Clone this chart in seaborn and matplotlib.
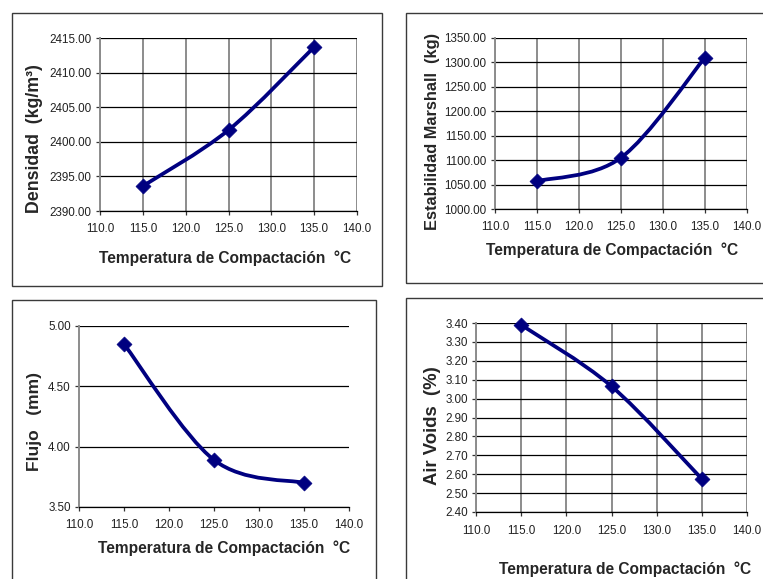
import numpy as np
import seaborn as sns
import matplotlib.pyplot as plt
from matplotlib.path import Path
from matplotlib.patches import PathPatch, Rectangle
from matplotlib.ticker import FormatStrFormatter

# ===== data =====
temperatura = [115.0, 125.0, 135.0]
densidad = [2393.6, 2401.7, 2413.7]
estabilidad = [1057.0, 1105.0, 1310.0]
flujo = [4.85, 3.89, 3.70]
air_voids = [3.39, 3.065, 2.575]

xlabel = "Temperatura de Compactación  °C"
ylabels = ["Densidad  (kg/m³)", "Estabilidad Marshall  (kg)", "Flujo   (mm)", "Air Voids  (%)"]
ylims = [(2390, 2415, 5), (1000, 1350, 50), (3.5, 5.0, 0.5), (2.4, 3.4, 0.1)]

sns.set_style("white")
plt.rcParams['font.family'] = ['Liberation Sans', 'DejaVu Sans']

W, H = 763, 579
fig = plt.figure(figsize=(W / 100, H / 100), dpi=100)


def px_axes(left, top, right, bottom):
    return fig.add_axes([left / W, 1 - bottom / H, (right - left) / W, (bottom - top) / H])


def smooth_path(x, y):
    # excel-like smoothed line: bezier segments with catmull-rom control points
    pts = np.column_stack([x, y]).astype(float)
    ext = np.vstack([pts[0], pts, pts[-1]])
    verts = [pts[0]]
    codes = [Path.MOVETO]
    for i in range(len(pts) - 1):
        p0, p1, p2, p3 = ext[i], ext[i + 1], ext[i + 2], ext[i + 3]
        verts += [p1 + (p2 - p0) / 6, p2 - (p3 - p1) / 6, p2]
        codes += [Path.CURVE4] * 3
    return Path(verts, codes)


panels = [
    # axes box (px), border box (px), y values, vertical grid, ylabel pos, xlabel pos, ylabel size
    ((100, 38, 357, 211), (12, 13, 382, 286), densidad, True, (-0.253, 0.42), (0.486, -0.272), 12.8),
    ((495, 38, 747, 209), (406, 13, 775, 283), estabilidad, True, (-0.25, 0.456), (0.464, -0.24), 11.8),
    ((79, 326, 349, 507), (12, 300, 376, 590), flujo, False, (-0.163, 0.47), (0.537, -0.227), 12.5),
    ((476, 323, 747, 512), (406, 298, 775, 590), air_voids, True, (-0.162, 0.455), (0.55, -0.302), 13.3),
]

for k, (box, border, yvals, vgrid, ylpos, xlpos, ysize) in enumerate(panels):
    bl, bt, br, bb = border
    fig.add_artist(Rectangle((bl / W, 1 - bb / H), (br - bl) / W, (bb - bt) / H,
                             transform=fig.transFigure, fill=False,
                             edgecolor="#3a3a3a", linewidth=1.0, clip_on=False))

    ax = px_axes(*box)
    lo, hi, step = ylims[k]
    ax.set_xlim(110, 140)
    ax.set_ylim(lo, hi)
    ax.set_xticks(np.arange(110, 140.1, 5))
    ax.set_yticks(np.arange(lo, hi + step / 2, step))
    ax.xaxis.set_major_formatter(FormatStrFormatter("%.1f"))
    ax.yaxis.set_major_formatter(FormatStrFormatter("%.2f"))

    ax.set_axisbelow(True)
    ax.grid(axis="y", color="black", linewidth=0.9)
    if vgrid:
        ax.grid(axis="x", color="#8c8c8c", linewidth=1.4)
    for s in ["top", "right"]:
        ax.spines[s].set_visible(False)
    ax.spines["left"].set_color("#8c8c8c")
    ax.spines["left"].set_linewidth(1.4)
    ax.spines["bottom"].set_color("black")
    ax.spines["bottom"].set_linewidth(0.9)

    ax.tick_params(axis="both", direction="out", length=3, width=0.9, colors="#333333",
                   labelsize=8.4, labelcolor="#222222")
    ax.tick_params(axis="x", pad=6, bottom=True)
    ax.tick_params(axis="y", pad=3, left=True)

    ax.add_patch(PathPatch(smooth_path(temperatura, yvals), fill=False,
                           edgecolor="#000080", linewidth=2.7, capstyle="round",
                           joinstyle="round", zorder=3, clip_on=False))
    sns.scatterplot(x=temperatura, y=yvals, marker="D", s=58, color="#000080",
                    edgecolor="#000080", linewidth=0.5, zorder=4, clip_on=False, ax=ax)

    ax.set_xlabel(xlabel, fontsize=11.2, fontweight="bold", va="center", ha="center")
    ax.set_ylabel(ylabels[k], fontsize=ysize, fontweight="bold", va="center", ha="center")
    ax.xaxis.set_label_coords(*xlpos)
    ax.yaxis.set_label_coords(*ylpos)

fig.savefig("out.png", dpi=100)
